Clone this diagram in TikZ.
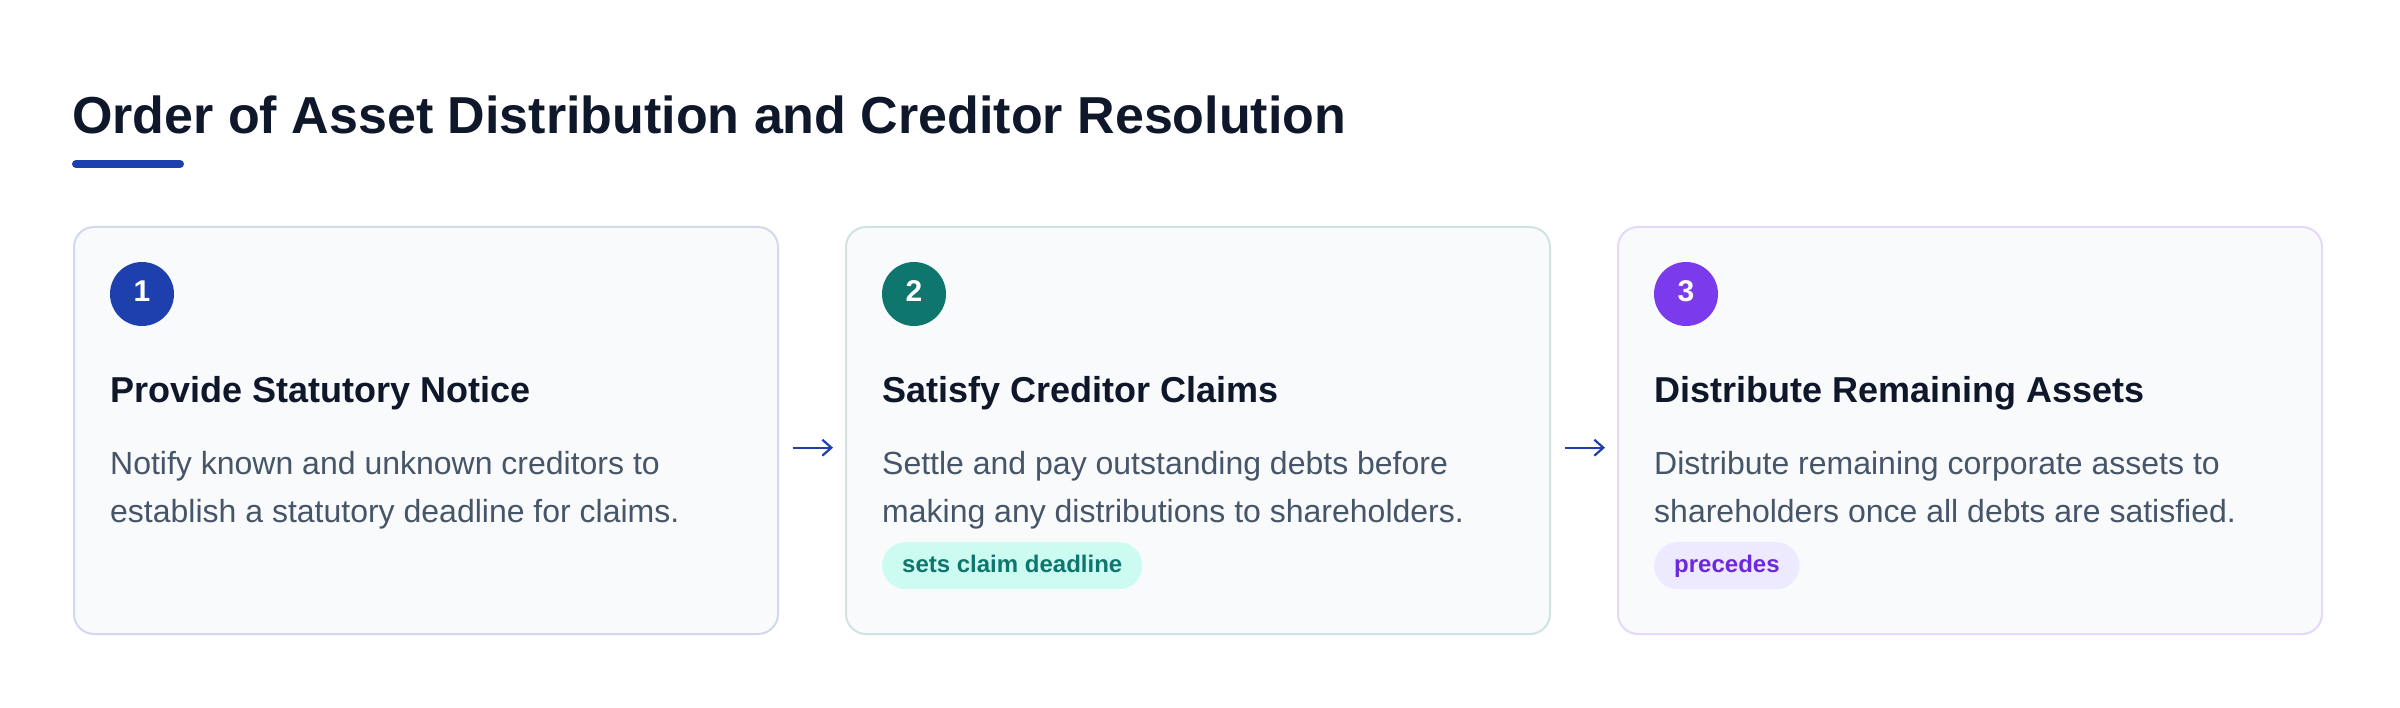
\documentclass[tikz,border=0pt]{standalone}
\usepackage{fontspec}
\setmainfont{Liberation Sans}
\usetikzlibrary{arrows.meta}
\definecolor{ink}{HTML}{0F172A}
\definecolor{slate}{HTML}{475569}
\definecolor{blueA}{HTML}{1E40AF}
\definecolor{tealA}{HTML}{0F766E}
\definecolor{violetA}{HTML}{7C3AED}
\definecolor{violetT}{HTML}{6D28D9}
\definecolor{cardfill}{HTML}{F8FAFC}
\definecolor{mint}{HTML}{CCFBF1}
\definecolor{lilac}{HTML}{EDE9FE}
\newcommand\setfs[2]{\fontsize{#1}{#2}\selectfont}
\begin{document}
\begin{tikzpicture}[x=1pt,y=-1pt,
  card/.style={draw, line width=2pt, fill=cardfill, rounded corners=20pt,
    minimum width=704pt, minimum height=407pt, anchor=north west, inner sep=0pt},
  numdot/.style={circle, minimum size=64pt, inner sep=0pt, text=white,
    font=\bfseries\setfs{30}{30}, text height=21.5pt, text depth=6pt},
  heading/.style={anchor=base west, inner sep=0pt, text=ink, font=\bfseries\setfs{36}{36}},
  body/.style={anchor=base west, inner sep=0pt, text=slate, font=\setfs{32}{48}},
  badge/.style={anchor=north west, rounded corners=23.5pt, minimum height=47pt,
    inner xsep=20pt, inner ysep=0pt, text height=18pt, text depth=4.4pt,
    font=\bfseries\setfs{24}{24}},
  flow/.style={draw=blueA, line width=2.2pt,
    -{Straight Barb[length=9pt,width=16pt,line width=2.2pt]}}]
\useasboundingbox (0,0) rectangle (2400,708);
\fill[white] (0,0) rectangle (2400,708);

% title
\node[anchor=base west, inner sep=0pt, text=ink, font=\bfseries\setfs{52}{52}] (title) at (72,133.3)
  {Order of Asset Distribution and Creditor Resolution};
\draw[blueA, line width=8pt, line cap=round] (76,164) -- (180,164);

% cards
\node[card, draw=blueA!20!white] (card1) at (73,226) {};
\node[card, draw=tealA!20!white] (card2) at (845,226) {};
\node[card, draw=violetA!20!white] (card3) at (1617,226) {};

% numbers
\node[numdot, fill=blueA] (n1) at (142,294) {1};
\node[numdot, fill=tealA] (n2) at (914,294) {2};
\node[numdot, fill=violetA] (n3) at (1686,294) {3};

% headings
\node[heading] (h1) at (110,402.3) {Provide Statutory Notice};
\node[heading] (h2) at (882,402.3) {Satisfy Creditor Claims};
\node[heading] (h3) at (1654,402.3) {Distribute Remaining Assets};

% bodies
\node[body] (b1) at (110,474.3) {\parbox[t]{650pt}{\raggedright Notify known and unknown creditors to\\establish a statutory deadline for claims.}};
\node[body] (b2) at (882,474.3) {\parbox[t]{650pt}{\raggedright Settle and pay outstanding debts before\\making any distributions to shareholders.}};
\node[body] (b3) at (1654,474.3) {\parbox[t]{650pt}{\raggedright Distribute remaining corporate assets to\\shareholders once all debts are satisfied.}};

% badges
\node[badge, fill=mint, text=tealA] (t2) at (882,542) {sets claim deadline};
\node[badge, fill=lilac, text=violetT] (t3) at (1654,542) {precedes};

% connectors
\draw[flow, shorten <=13.7pt, shorten >=12pt] ([yshift=-17.2pt]card1.east) -- ([yshift=-17.2pt]card2.west);
\draw[flow, shorten <=13.7pt, shorten >=12pt] ([yshift=-17.2pt]card2.east) -- ([yshift=-17.2pt]card3.west);
\end{tikzpicture}
\end{document}
